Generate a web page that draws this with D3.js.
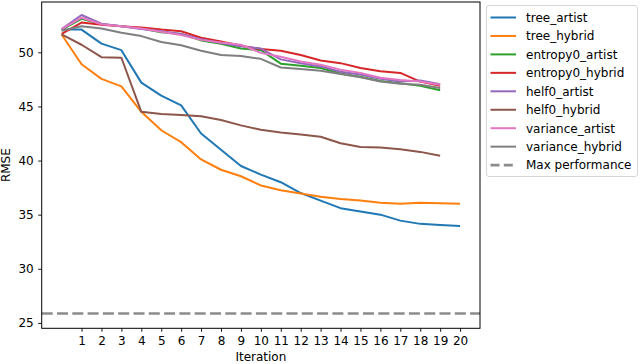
<!DOCTYPE html>
<head>
  <meta charset="UTF-8">
  <script src="https://d3js.org/d3.v7.min.js"></script>
  <title>RMSE per iteration</title>
  <style>
    body { margin: 0; background: #fff; }
    text { font-family: "DejaVu Sans", sans-serif; }
  </style>
</head>
<body>
  <svg id="chart"></svg>
  <script>

    var seriesNames = ["tree_artist", "tree_hybrid", "entropy0_artist", "entropy0_hybrid",
                       "helf0_artist", "helf0_hybrid", "variance_artist", "variance_hybrid"];
    var seriesColors = ["#1f77b4", "#ff7f0e", "#2ca02c", "#d62728",
                        "#9467bd", "#8c564b", "#e377c2", "#7f7f7f"];

    // values start at iteration 0
    var treeArtist = [52.1, 52.1, 50.8, 50.2, 47.2, 46.0, 45.1, 42.5, 41.0, 39.5, 38.7, 38.0, 37.0, 36.3, 35.6, 35.3, 35.0, 34.45, 34.15, 34.05, 33.95];
    var treeHybrid = [51.65, 48.9, 47.55, 46.85, 44.5, 42.8, 41.7, 40.1, 39.15, 38.55, 37.7, 37.25, 36.95, 36.65, 36.45, 36.3, 36.1, 36.0, 36.1, 36.05, 36.0];
    var entropy0Artist = [52.1, 53.1, 52.6, 52.4, 52.2, 51.85, 51.7, 51.1, 50.8, 50.35, 50.2, 48.95, 48.75, 48.55, 48.05, 47.75, 47.35, 47.15, 46.9, 46.5];
    var entropy0Hybrid = [51.7, 52.75, 52.55, 52.4, 52.3, 52.1, 51.95, 51.35, 51.0, 50.6, 50.3, 50.15, 49.75, 49.25, 49.0, 48.55, 48.25, 48.1, 47.3, 46.9];
    var helf0Artist = [52.15, 53.45, 52.65, 52.4, 52.15, 51.95, 51.7, 51.2, 50.85, 50.55, 50.35, 49.35, 49.0, 48.7, 48.2, 47.95, 47.55, 47.3, 47.4, 47.05];
    var helf0Hybrid = [51.65, 50.7, 49.55, 49.5, 44.5, 44.3, 44.2, 44.1, 43.75, 43.25, 42.85, 42.6, 42.4, 42.2, 41.6, 41.25, 41.2, 41.05, 40.8, 40.45];
    var varianceArtist = [52.15, 53.2, 52.6, 52.4, 52.2, 51.9, 51.6, 51.15, 50.9, 50.7, 49.95, 49.6, 49.15, 48.85, 48.4, 48.1, 47.65, 47.45, 47.3, 47.0];
    var varianceHybrid = [52.0, 52.4, 52.2, 51.8, 51.5, 50.95, 50.65, 50.15, 49.75, 49.65, 49.4, 48.6, 48.45, 48.3, 48.0, 47.7, 47.3, 47.1, 47.0, 46.7];

    var maxPerformance = 25.87;
    var xTicks = d3.range(1, 21);
    var yTicks = [25, 30, 35, 40, 45, 50];

    var allSeries = [treeArtist, treeHybrid, entropy0Artist, entropy0Hybrid,
                     helf0Artist, helf0Hybrid, varianceArtist, varianceHybrid];

    var width = 640;
    var height = 364;
    var plotLeft = 41.7, plotRight = 480, plotTop = 2, plotBottom = 328.3;
    var fontSize = "12px";

    var svg = d3.select("#chart")
        .attr("width", width)
        .attr("height", height);

    var x = d3.scaleLinear()
        .domain([-1, 21])
        .range([plotLeft, plotRight]);

    var y = d3.scaleLinear()
        .domain([24.5, 54.65])
        .range([plotBottom, plotTop]);

    var line = d3.line()
        .x(function(d, i) { return x(i); })
        .y(function(d) { return y(d); });

    svg.selectAll("path.series")
        .data(allSeries)
        .enter().append("path")
        .attr("class", "series")
        .attr("d", function(d) { return line(d); })
        .attr("fill", "none")
        .attr("stroke", function(d, i) { return seriesColors[i]; })
        .attr("stroke-width", 2)
        .attr("stroke-linejoin", "round");

    svg.append("line")
        .attr("x1", plotLeft)
        .attr("x2", plotRight)
        .attr("y1", y(maxPerformance))
        .attr("y2", y(maxPerformance))
        .attr("stroke", "#8c8c8c")
        .attr("stroke-width", 2.6)
        .attr("stroke-dasharray", "11,4.3");

    // axes
    var xAxis = d3.axisBottom(x)
        .tickValues(xTicks)
        .tickSize(3.5)
        .tickPadding(4.5);
    var yAxis = d3.axisLeft(y)
        .tickValues(yTicks)
        .tickSize(3.5)
        .tickPadding(4.5);

    var gx = svg.append("g")
        .attr("transform", "translate(0," + plotBottom + ")")
        .call(xAxis);
    var gy = svg.append("g")
        .attr("transform", "translate(" + plotLeft + ",0)")
        .call(yAxis);

    [gx, gy].forEach(function(g) {
        g.select(".domain").remove();
        g.selectAll(".tick line").attr("stroke", "#000").attr("stroke-width", 0.9);
        g.selectAll(".tick text")
            .attr("fill", "#000")
            .style("font-size", fontSize)
            .style("font-family", "DejaVu Sans");
    });

    svg.append("rect")
        .attr("x", plotLeft)
        .attr("y", plotTop)
        .attr("width", plotRight - plotLeft)
        .attr("height", plotBottom - plotTop)
        .attr("fill", "none")
        .attr("stroke", "#000")
        .attr("stroke-width", 1);

    svg.append("text")
        .attr("x", (plotLeft + plotRight) / 2)
        .attr("y", 361)
        .attr("text-anchor", "middle")
        .style("font-size", fontSize)
        .text("Iteration");

    svg.append("text")
        .attr("transform", "translate(10," + ((plotTop + plotBottom) / 2) + ") rotate(-90)")
        .attr("text-anchor", "middle")
        .style("font-size", fontSize)
        .text("RMSE");

    // legend
    var legend = svg.append("g");
    legend.append("rect")
        .attr("x", 486.5)
        .attr("y", 5.5)
        .attr("width", 151)
        .attr("height", 171)
        .attr("rx", 2.5)
        .attr("fill", "#fff")
        .attr("stroke", "#d6d6d6")
        .attr("stroke-width", 1);

    var legendItems = seriesNames.concat(["Max performance"]);
    var entries = legend.selectAll("g.entry")
        .data(legendItems)
        .enter().append("g")
        .attr("class", "entry")
        .attr("transform", function(d, i) { return "translate(0," + (17.5 + i * 18.45) + ")"; });

    entries.append("line")
        .attr("x1", 490.5)
        .attr("x2", 516)
        .attr("stroke", function(d, i) { return i < 8 ? seriesColors[i] : "#8c8c8c"; })
        .attr("stroke-width", function(d, i) { return i < 8 ? 2 : 2.6; })
        .attr("stroke-dasharray", function(d, i) { return i < 8 ? null : "9,4.3"; });

    entries.append("text")
        .attr("x", 526)
        .attr("dy", "0.36em")
        .style("font-size", fontSize)
        .attr("fill", "#000")
        .text(function(d) { return d; });

  </script>
</body>
</html>
